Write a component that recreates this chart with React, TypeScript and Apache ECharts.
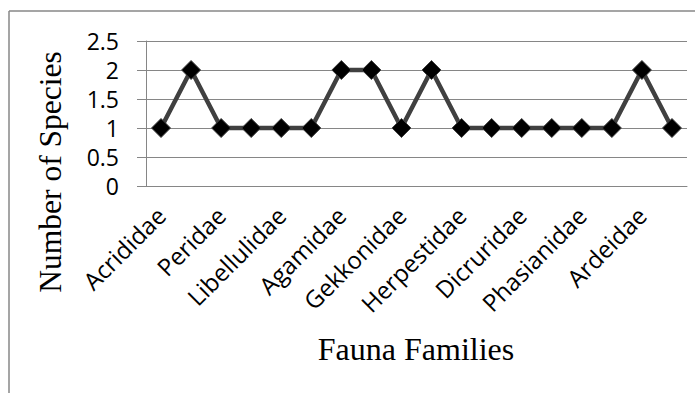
import React, { useEffect, useRef } from "react";
import * as echarts from "echarts";

const families: string[] = [
  "Acrididae", "Pyrgomorphidae", "Peridae", "Nymphalidae", "Libellulidae", "Coenagrionidae",
  "Agamidae", "Scincidae", "Gekkonidae", "Colubridae", "Herpestidae", "Sciuridae",
  "Dicruridae", "Corvidae", "Phasianidae", "Columbidae", "Ardeidae", "Accipitridae",
];
const speciesCounts: number[] = [1, 2, 1, 1, 1, 1, 2, 2, 1, 2, 1, 1, 1, 1, 1, 1, 2, 1];
const yMin = 0;
const yMax = 2.5;
const yStep = 0.5;
const xTitle = "Fauna Families";
const yTitle = "Number of Species";

export default function App() {
  const ref = useRef<HTMLDivElement>(null);
  useEffect(() => {
    if (!ref.current) return;
    const chart = echarts.init(ref.current, null, { renderer: "svg" });
    const gridColor = "#868686";
    chart.setOption({
      animation: false,
      backgroundColor: "#ffffff",
      grid: { left: 146, top: 41, width: 541, height: 145, containLabel: false },
      xAxis: {
        type: "category",
        data: families,
        boundaryGap: true,
        axisLine: { show: true, lineStyle: { color: gridColor, width: 1 } },
        axisTick: { show: false },
        axisLabel: {
          interval: 1,
          rotate: 45,
          margin: 25,
          fontFamily: "Open Sans",
          fontSize: 24,
          color: "#000",
        },
      },
      yAxis: {
        type: "value",
        min: yMin,
        max: yMax,
        interval: yStep,
        axisLine: { show: true, lineStyle: { color: gridColor, width: 1 } },
        axisTick: { show: true, length: 9, lineStyle: { color: gridColor, width: 1 } },
        splitLine: { show: true, lineStyle: { color: gridColor, width: 1 } },
        axisLabel: {
          margin: 27,
          fontFamily: "Open Sans",
          fontSize: 23,
          color: "#000",
          formatter: (v: number) => String(v),
        },
      },
      graphic: [
        { type: "line", shape: { x1: 9, y1: 11, x2: 695, y2: 11 }, style: { stroke: "#878787", lineWidth: 1.5 } },
        { type: "line", shape: { x1: 9, y1: 11, x2: 9, y2: 393 }, style: { stroke: "#878787", lineWidth: 1.5 } },
        {
          type: "text",
          x: 416,
          y: 349,
          style: {
            text: xTitle,
            fontFamily: "Liberation Serif",
            fontSize: 32,
            fill: "#000",
            textAlign: "center",
            textVerticalAlign: "middle",
          },
        },
        {
          type: "text",
          x: 50,
          y: 172,
          rotation: Math.PI / 2,
          style: {
            text: yTitle,
            fontFamily: "Liberation Serif",
            fontSize: 31.5,
            fill: "#000",
            textAlign: "center",
            textVerticalAlign: "middle",
          },
        },
      ],
      series: [
        {
          type: "line",
          data: speciesCounts,
          symbol: "diamond",
          symbolSize: 19,
          lineStyle: { color: "#404040", width: 4.5 },
          itemStyle: { color: "#000000", borderColor: "#404040", borderWidth: 1 },
        },
      ],
    });
    return () => chart.dispose();
  }, []);
  return (
    <div
      ref={ref}
      style={{ position: "fixed", left: 0, top: 0, width: 695, height: 393 }}
    />
  );
}
